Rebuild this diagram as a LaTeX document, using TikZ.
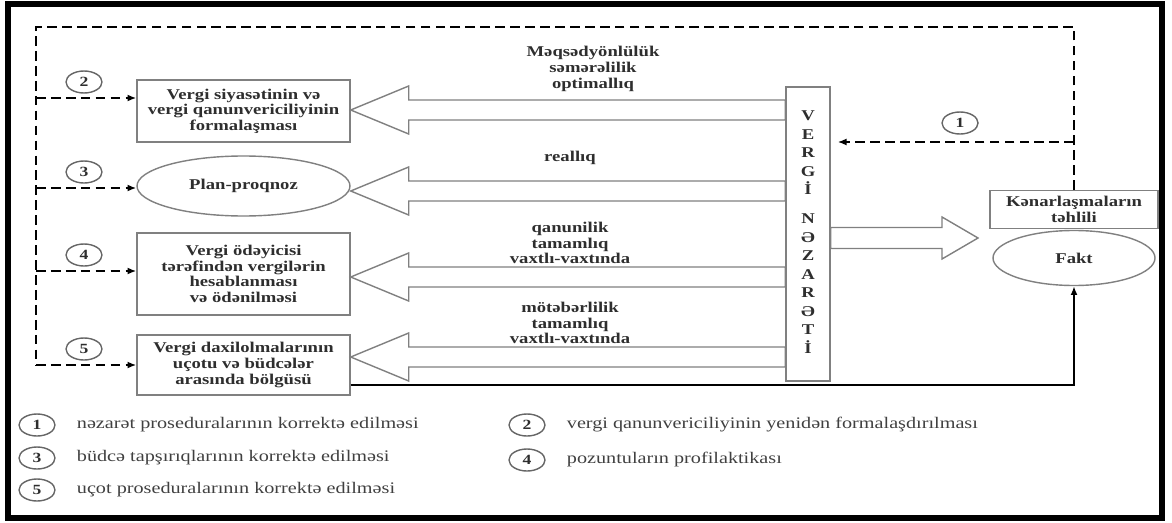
\documentclass[tikz,border=0pt]{standalone}
\usepackage{fontspec}
\setmainfont{Liberation Serif}[FakeStretch=1.25]
\usetikzlibrary{arrows.meta,calc,shapes.geometric}

\begin{document}
\begin{tikzpicture}[
  >={Latex[length=5pt,width=4pt]},
  every node/.style={font=\fontsize{8.5}{8.9}\selectfont, text=black!82},
  box/.style={rectangle, draw=black!50, line width=0.8pt, align=center, font=\fontsize{8.5}{8.9}\selectfont\bfseries},
  oval/.style={ellipse, draw=black!50, line width=0.8pt, inner sep=0pt, font=\fontsize{8.5}{8.9}\selectfont\bfseries},
  num/.style={ellipse, draw=black!60, line width=0.8pt, minimum width=0.72cm, minimum height=0.44cm, inner sep=0pt, font=\fontsize{8}{8}\selectfont\bfseries},
  dline/.style={dashed, line width=1.3pt, dash pattern=on 5.5pt off 3pt, black},
  bigarrow/.style={draw=black!50, line width=0.8pt, fill=white},
  lbl/.style={align=center, font=\fontsize{8.5}{8.9}\selectfont\bfseries},
  keytext/.style={anchor=west, text=black!75, font=\fontsize{9.2}{9.5}\selectfont}
]

\useasboundingbox (0, 0) rectangle (23.44, 10.44);
\draw[line width=3pt] (0.16, 0.08) rectangle (23.24, 10.36);

\node (b2) at (4.87, 8.22) [box, minimum width=4.26cm, minimum height=1.24cm] {Vergi siyasətinin və\\vergi qanunvericiliyinin\\formalaşması};
\node (plan) at (4.87, 6.72) [oval, minimum width=4.26cm, minimum height=1.2cm] {Plan-proqnoz};
\node (b4) at (4.87, 4.96) [box, minimum width=4.26cm, minimum height=1.64cm] {Vergi ödəyicisi\\tərəfindən vergilərin\\hesablanması\\və ödənilməsi};
\node (b5) at (4.87, 3.14) [box, minimum width=4.26cm, minimum height=1.2cm] {Vergi daxilolmalarının\\uçotu və büdcələr\\arasında bölgüsü};

\node (ctrl) at (16.16, 5.76) [box, minimum width=0.88cm, minimum height=5.88cm] {};
\node (ctrltext) at (16.16, 5.8) [align=center, font=\fontsize{8.5}{10.5}\selectfont\bfseries] {V\\E\\R\\G\\İ\\[0.22cm]N\\Ə\\Z\\A\\R\\Ə\\T\\İ};

\node (kon) at (21.48, 6.25) [box, minimum width=3.36cm, minimum height=0.74cm] {Kənarlaşmaların\\təhlili};
\node (fakt) at (21.48, 5.28) [oval, minimum width=3.24cm, minimum height=1.1cm] {Fakt};

% hollow arrows from the control box
\newcommand{\BigArrow}[2]{
  \coordinate (tip) at (#1.east |- 0,#2);
  \draw[bigarrow] (tip) -- ++(1.16, 0.48) -- ++(0, -0.28) -- (ctrl.west |- 0,#2+0.2)
    -- (ctrl.west |- 0,#2-0.2) -- ($(tip)+(1.16,-0.2)$) -- ++(0, -0.28) -- cycle;
}
\BigArrow{b2}{8.24}
\BigArrow{plan}{6.62}
\BigArrow{b4}{4.9}
\BigArrow{b5}{3.3}

\coordinate (rtip) at (19.56, 5.68);
\draw[bigarrow] (rtip) -- ++(-0.72, 0.42) -- ++(0, -0.21) -- (ctrl.east |- 0,5.89)
  -- (ctrl.east |- 0,5.47) -- ($(rtip)+(-0.72,-0.21)$) -- ++(0, -0.21) -- cycle;

\node (l1) at (11.86, 9.06) [lbl] {Məqsədyönlülük\\səmərəlilik\\optimallıq};
\node (l2) at (11.4, 7.28) [lbl] {reallıq};
\node (l3) at (11.4, 5.58) [lbl] {qanunilik\\tamamlıq\\vaxtlı-vaxtında};
\node (l4) at (11.4, 3.98) [lbl] {mötəbərlilik\\tamamlıq\\vaxtlı-vaxtında};

% feedback loop
\coordinate (tl) at (0.72, 9.9);
\coordinate (tr) at (kon.north |- tl);
\coordinate (bl) at (0.72, 3.14);
\draw[dline] (kon.north) -- (tr) -- (tl) -- (bl);
\draw[dline, ->] (kon.north |- 0,7.6) -- ($(ctrl.east |- 0,7.6)+(0.14,0)$);
\node (n1) at (19.2, 7.98) [num] {1};

\foreach \tgt/\y/\n in {b2/8.48/2, plan/6.68/3, b4/5.02/4, b5/3.14/5} {
  \draw[dline, ->] (tl |- 0,\y) -- (\tgt.west |- 0,\y);
  \node (n\n) at (1.68, \y+0.32) [num] {\n};
}

\draw[->, line width=1.2pt] (b5.east |- 0,2.74) -| (fakt.south);

% legend
\foreach \n/\x/\y/\txt in {
  1/0.74/1.94/{nəzarət proseduralarının korrektə edilməsi},
  3/0.74/1.28/{büdcə tapşırıqlarının korrektə edilməsi},
  5/0.74/0.64/{uçot proseduralarının korrektə edilməsi},
  2/10.54/1.94/{vergi qanunvericiliyinin yenidən formalaşdırılması},
  4/10.54/1.24/{pozuntuların profilaktikası}} {
  \node (key\n) at (\x, \y) [num] {\n};
  \node (keytxt\n) at ($(key\n.east)+(0.3,0)$) [keytext] {\txt};
}

\end{tikzpicture}
\end{document}
